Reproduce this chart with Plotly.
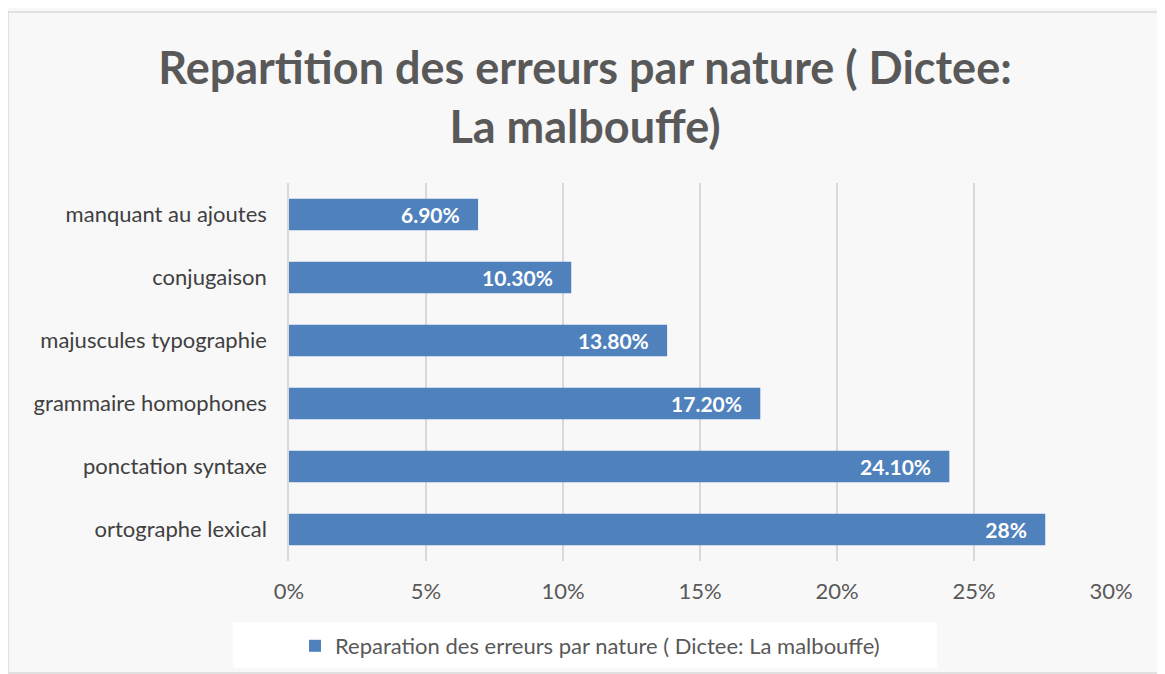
import plotly.graph_objects as go

categories = ["ortographe lexical", "ponctation syntaxe", "grammaire homophones",
              "majuscules typographie", "conjugaison", "manquant au ajoutes"]
values = [27.6, 24.1, 17.2, 13.8, 10.3, 6.9]
value_labels = ["28%", "24.10%", "17.20%", "13.80%", "10.30%", "6.90%"]
tick_vals = [0, 5, 10, 15, 20, 25, 30]
tick_text = ["0%", "5%", "10%", "15%", "20%", "25%", "30%"]
series_name = "Reparation des erreurs par nature ( Dictee: La malbouffe)"
title_text = "Repartition des erreurs par nature ( Dictee:<br>La malbouffe)"

OFF = 8  # page body margin
W, H = 1165 - OFF, 674
L, R, T, B = 289 - OFF, 1111 - OFF, 183 - OFF, 561 - OFF

fig = go.Figure()
fig.add_trace(go.Bar(
    y=categories, x=values, orientation="h", name=series_name,
    marker=dict(color="#4f81bd", line=dict(width=0)),
    width=0.5,
    text=[t + "   " for t in value_labels], textposition="inside", insidetextanchor="end",
    textfont=dict(family="Lato", size=21, color="white", weight="bold"),
    showlegend=True,
))

def px(xr):
    return (xr - OFF - L) / (R - L)

def py(yr):
    return (B - (yr - OFF)) / (B - T)

fig.update_layout(
    width=W, height=H,
    margin=dict(l=L, r=W - R, t=T, b=H - B),
    paper_bgcolor="#f8f8f8", plot_bgcolor="rgba(0,0,0,0)",
    title=dict(text=title_text, x=(585 - OFF) / W, xanchor="center", xref="container",
               y=1 - (84 - OFF) / H, yanchor="middle", yref="container",
               font=dict(family="Lato", size=45, color="#595959", weight="bold")),
    xaxis=dict(range=[0, 30], tickvals=tick_vals, ticktext=tick_text,
               showgrid=True, gridcolor="#d9d9d9", gridwidth=1.5, zeroline=False,
               showline=False, tickfont=dict(family="Lato", size=22, color="#595959"),
               ticks="", ticklabelstandoff=15),
    yaxis=dict(categoryorder="array", categoryarray=categories, showgrid=False, zeroline=False,
               showline=True, linecolor="#d9d9d9", linewidth=1.5,
               tickfont=dict(family="Lato", size=22, color="#404040"), ticks="",
               ticklabelstandoff=16),
    legend=dict(x=px(590), xanchor="center", y=py(646), yanchor="middle", orientation="h",
                bgcolor="rgba(0,0,0,0)", font=dict(family="Lato", size=22, color="#595959"),
                itemwidth=30),
    bargap=0.5,
    shapes=[
        dict(type="rect", xref="paper", yref="paper", x0=px(8), x1=px(1160), y0=py(673), y1=py(12),
             line=dict(color="#d9d9d9", width=1.5), fillcolor="rgba(0,0,0,0)", layer="below"),
        dict(type="rect", xref="paper", yref="paper", x0=px(233), x1=px(937), y0=py(668), y1=py(622),
             line=dict(width=0), fillcolor="white", layer="below"),
    ],
)

fig.write_html("out.html")
